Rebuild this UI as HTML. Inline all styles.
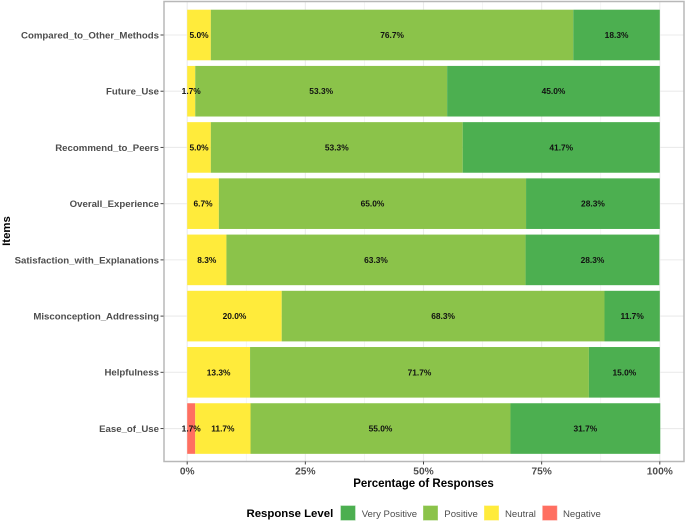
<!DOCTYPE html>
<html>
<head>
<meta charset="utf-8">
<style>
html,body{margin:0;padding:0;background:#fff;}
svg{display:block;font-family:"Liberation Sans",sans-serif;}
</style>
</head>
<body>
<svg id="chart" width="685" height="522" viewBox="0 0 685 522" xmlns="http://www.w3.org/2000/svg"></svg>
<script>
const items = ["Compared_to_Other_Methods","Future_Use","Recommend_to_Peers","Overall_Experience","Satisfaction_with_Explanations","Misconception_Addressing","Helpfulness","Ease_of_Use"];
const negative = [0,0,0,0,0,0,0,1.7];
const neutral = [5.0,1.7,5.0,6.7,8.3,20.0,13.3,11.7];
const positive = [76.7,53.3,53.3,65.0,63.3,68.3,71.7,55.0];
const veryPositive = [18.3,45.0,41.7,28.3,28.3,11.7,15.0,31.7];
const xTicks = [0,25,50,75,100];
const xMinorTicks = [12.5,37.5,62.5,87.5];
const levelNames = ["Negative","Neutral","Positive","Very Positive"];
const levelColors = ["#FF6F61","#FFEB3B","#8BC34A","#4CAF50"];
const legendOrder = [3,2,1,0];

const NS = "http://www.w3.org/2000/svg";
const svg = document.getElementById("chart");
const panel = {l:164,t:1.5,r:684,b:461.5};
const xScale = v => 187.2 + v * 4.726;
const yScale = i => 35 + i * 56.22;
const barH = 50.6;
function add(tag, attrs, text){
  const e = document.createElementNS(NS, tag);
  for (const k in attrs) e.setAttribute(k, attrs[k]);
  if (text !== undefined) e.textContent = text;
  svg.appendChild(e);
  return e;
}

xMinorTicks.forEach(v => {
  const l = add("line",{x1:xScale(v),x2:xScale(v),y1:panel.t,y2:panel.b,stroke:"#f0f0f0","stroke-width":0.7});
  
  
});
xTicks.forEach(v => {
  const l = add("line",{x1:xScale(v),x2:xScale(v),y1:panel.t,y2:panel.b,stroke:"#ebebeb","stroke-width":1.1});
  
  
});
items.forEach((name,i) => {
  const l = add("line",{x1:panel.l,x2:panel.r,y1:yScale(i),y2:yScale(i),stroke:"#ebebeb","stroke-width":1.1});
  
  
});

const series = [negative,neutral,positive,veryPositive];
items.forEach((name,i) => {
  let cum = 0;
  series.forEach((vals,s) => {
    const v = vals[i];
    if (v > 0) {
      const r = add("rect",{x:xScale(cum),y:yScale(i)-barH/2,width:xScale(cum+v)-xScale(cum),height:barH,fill:levelColors[s]});
      
      
    }
    cum += v;
  });
});
items.forEach((name,i) => {
  let cum = 0;
  series.forEach((vals,s) => {
    const v = vals[i];
    if (v > 0) {
      const t = add("text",{x:xScale(cum+v/2),y:yScale(i)+3,"text-anchor":"middle","font-size":8.4,"font-weight":"bold",fill:"#111"},v.toFixed(1)+"%");
      
      
    }
    cum += v;
  });
});

const border = add("rect",{x:panel.l,y:panel.t,width:panel.r-panel.l,height:panel.b-panel.t,fill:"none",stroke:"#b8b8b8","stroke-width":1.5});



items.forEach((name,i) => {
  const tk = add("line",{x1:panel.l-3.5,x2:panel.l-0.5,y1:yScale(i),y2:yScale(i),stroke:"#444","stroke-width":1});
  
  
  const t = add("text",{x:159,y:yScale(i)+3.4,"text-anchor":"end","font-size":9.65,"font-weight":"bold",fill:"#4d4d4d"},name);
  
  
});
xTicks.forEach(v => {
  const tk = add("line",{x1:xScale(v),x2:xScale(v),y1:panel.b,y2:panel.b+3,stroke:"#444","stroke-width":1});
  
  
  const t = add("text",{x:xScale(v),y:474.5,"text-anchor":"middle","font-size":10.2,"font-weight":"bold",fill:"#4d4d4d"},v+"%");
  
  
});

const xTitle = add("text",{x:423.5,y:487,"text-anchor":"middle","font-size":11.5,"font-weight":"bold",fill:"#000"},"Percentage of Responses");


const yTitle = add("text",{x:0,y:0,"text-anchor":"middle","font-size":11.4,"font-weight":"bold",fill:"#000",transform:"translate(10,231) rotate(-90)"},"Items");



const legendTitle = add("text",{x:246.5,y:517,"font-size":11.4,"font-weight":"bold",fill:"#000"},"Response Level");


const swatchX = [340.5,423,484,542.3];
const labelX = [361.7,444.3,505,563];
legendOrder.forEach((s,i) => {
  const r = add("rect",{x:swatchX[i],y:505.5,width:15,height:15,fill:levelColors[s],stroke:"#ffffff","stroke-opacity":0.35,"stroke-width":1});
  
  
  const t = add("text",{x:labelX[i],y:517,"font-size":9.6,fill:"#4d4d4d"},levelNames[s]);
  
  
});
</script>
</body>
</html>
